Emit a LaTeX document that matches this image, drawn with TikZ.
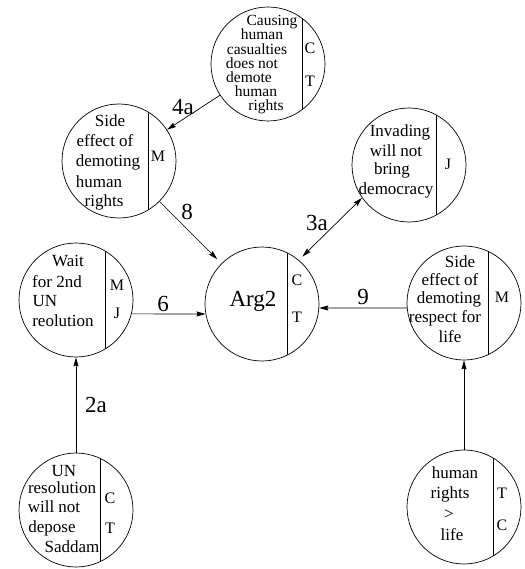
\documentclass[tikz,border=0pt]{standalone}
\usepackage{fontspec}
\setmainfont{Liberation Serif}
\usetikzlibrary{arrows.meta,calc}
\begin{document}
\begin{tikzpicture}[x=1pt,y=-1pt,
  bub/.style={circle,draw,minimum size=114pt,inner sep=0pt,line width=0.7pt},
  txt/.style={inner sep=0pt,anchor=base,font=\fontsize{17}{17}\selectfont},
  tight/.style={txt,font=\fontsize{15.5}{15.5}\selectfont},
  tag/.style={inner sep=0pt,anchor=base,font=\fontsize{16}{16}\selectfont},
  lbl/.style={inner sep=0pt,font=\fontsize{23}{23}\selectfont},
  ln/.style={line width=0.7pt},
  arr/.style={line width=0.7pt,-{Stealth[length=9pt,width=5pt,inset=1pt]}},
  darr/.style={line width=0.7pt,{Stealth[length=9pt,width=5pt,inset=1pt]}-{Stealth[length=9pt,width=5pt,inset=1pt]}}]
\useasboundingbox (0,0) rectangle (524,569);

% circles
\node[bub] (C)  at (268,64)  {};
\node[bub] (S1) at (119,161) {};
\node[bub] (I)  at (409,165) {};
\node[bub] (W)  at (76,300)  {};
\node[bub] (A)  at (262,304) {};
\node[bub] (S2) at (464,303) {};
\node[bub] (U)  at (76,510)  {};
\node[bub] (H)  at (464,507) {};

% chords
\draw[ln] ($(C)+(34,-45.75)$)  -- ($(C)+(34,45.75)$);
\draw[ln] ($(S1)+(29,-49.07)$) -- ($(S1)+(29,49.07)$);
\draw[ln] ($(I)+(27,-50.2)$)   -- ($(I)+(27,50.2)$);
\draw[ln] ($(W)+(29,-49.07)$)  -- ($(W)+(29,49.07)$);
\draw[ln] ($(A)+(25,-51.2)$)   -- ($(A)+(25,51.2)$);
\draw[ln] ($(S2)+(24,-51.7)$)  -- ($(S2)+(24,51.7)$);
\draw[ln] ($(U)+(24,-51.7)$)   -- ($(U)+(24,51.7)$);
\draw[ln] ($(H)+(29,-49.07)$)  -- ($(H)+(29,49.07)$);

% texts in circles
\foreach \x/\y/\t [count=\i] in {272/21/Causing,262/35/human,257/50/casualties,252/64/does not,249/78/demote,256/92/human,266/106/rights}
  \node[tight] (ct\i) at (\x,\y+5) {\t};
\node[tag] (cC) at (310,54) {C};
\node[tag] (cT) at (310,87) {T};

\foreach \x/\y/\t [count=\i] in {110/122/Side,105/142/effect of,108/162/demoting,99/182/human,104/202/rights}
  \node[txt] (s1t\i) at (\x,\y+5) {\t};
\node[tag] (s1M) at (158,162) {M};

\foreach \x/\y/\t [count=\i] in {400/132/Invading,396/152/will not,392/170/bring,396/189/democracy}
  \node[txt] (it\i) at (\x,\y+5) {\t};
\node[tag] (iJ) at (448,170) {J};

\foreach \x/\y/\t [count=\i] in {68/261/Wait,57/282/for 2nd,45/301/UN,63/321/reolution}
  \node[txt] (wt\i) at (\x,\y+5) {\t};
\node[tag] (wM) at (117,290) {M};
\node[tag] (wJ) at (117,318) {J};

\node[lbl,anchor=base] (at1) at (253,306) {Arg2};
\node[tag] (aC) at (297,285) {C};
\node[tag] (aT) at (297,322) {T};

\foreach \x/\y/\t [count=\i] in {460/262/Side,450/280/effect of,449/298/demoting,445/317/respect for,450/337/life}
  \node[txt] (s2t\i) at (\x,\y+5) {\t};
\node[tag] (s2M) at (502,302) {M};

\foreach \x/\y/\t [count=\i] in {64/471/UN,62/488/resolution,54/507/will not,52/527/depose,72/547/Saddam}
  \node[txt] (ut\i) at (\x,\y+5) {\t};
\node[tag] (uC) at (110,503) {C};
\node[tag] (uT) at (110,533) {T};

\foreach \x/\y/\t [count=\i] in {455/473/human,450/493/rights,449/514/>,452/535/life}
  \node[txt] (ht\i) at (\x,\y+5) {\t};
\node[tag] (hT) at (502,498) {T};
\node[tag] (hC) at (502,530) {C};

% connectors
\draw[arr] (C) -- (S1);
\draw[arr,shorten >=6pt] (S1) -- (A);
\draw[darr,shorten <=5pt] (A.50) -- (I.215);
\draw[arr] (W.-14) -- (A.190);
\draw[arr] (S2.185) -- (A.-4);
\draw[arr] (U) -- (W);
\draw[arr] (H) -- (S2);

% labels
\node[lbl] (l4a) at (183,107) {4a};
\node[lbl] (l8)  at (187,212) {8};
\node[lbl] (l3a) at (317,223) {3a};
\node[lbl] (l6)  at (163,304) {6};
\node[lbl] (l9)  at (363,297) {9};
\node[lbl] (l2a) at (96,405)  {2a};
\end{tikzpicture}
\end{document}
